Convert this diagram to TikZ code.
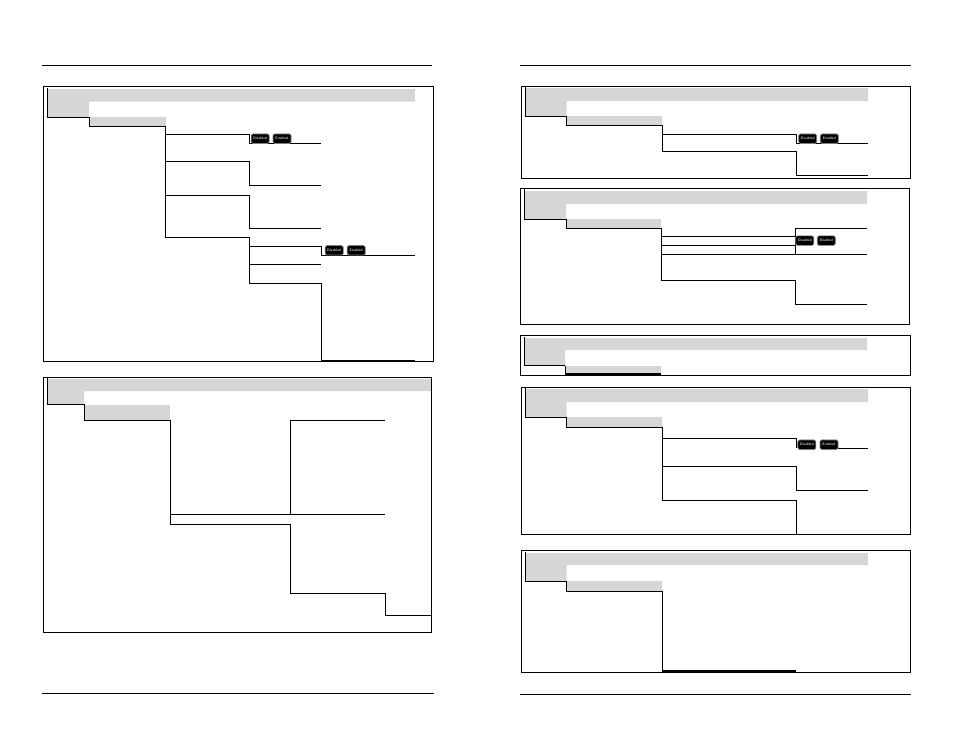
\documentclass[tikz,border=0pt]{standalone}
\usepackage{tikz}

\begin{document}
\begin{tikzpicture}[x=1pt, y=-1pt,
	frame/.style={draw, line width=1pt},
	band/.style={fill=black!16},
	wire/.style={draw, line width=1pt},
	heavy/.style={draw, line width=1.5pt},
	rule/.style={draw, line width=1pt},
	btn/.style={draw=black!50, line width=0.7pt, fill=black, text=black!20, rounded corners=1.5pt, inner sep=0pt, minimum width=18pt, minimum height=9.5pt, font=\sffamily\bfseries\fontsize{3.6}{4}\selectfont}]
	\useasboundingbox (0,0) rectangle (954,737);

	% page rules
	\coordinate (TL1) at (42,65.5);
	\coordinate (TL2) at (432,65.5);
	\coordinate (TR1) at (520,65.5);
	\coordinate (TR2) at (911,65.5);
	\coordinate (BL1) at (42,693.3);
	\coordinate (BL2) at (434,693.3);
	\coordinate (BR1) at (520,694);
	\coordinate (BR2) at (911,694);
	\draw[rule] (TL1) -- (TL2);
	\draw[rule] (TR1) -- (TR2);
	\draw[rule] (BL1) -- (BL2);
	\draw[rule] (BR1) -- (BR2);

	% first panel, top left
	\fill[band] (47.5,89) -| (415,101.7) -| (89,117) -| cycle;
	\fill[band] (89,117) rectangle (166,126.3);
	\draw[frame] (43.7,86.7) rectangle (433,361);
	\coordinate (a0) at (47.5,88);
	\coordinate (a1) at (89,117);
	\coordinate (a2) at (165.5,126.3);
	\coordinate (a3) at (249.7,134.3);
	\coordinate (a4) at (321,143.3);
	\coordinate (a5) at (249.7,161.3);
	\coordinate (a6) at (321,185.3);
	\coordinate (a7) at (249.7,195.3);
	\coordinate (a8) at (321,228.3);
	\coordinate (a9) at (249.7,237.3);
	\coordinate (a10) at (321,246.3);
	\coordinate (a11) at (415,255.3);
	\coordinate (a12) at (321,264.3);
	\coordinate (a13) at (321,283.3);
	\coordinate (a14) at (415,360.3);
	\draw[wire] (a0) |- (a1) |- (a2) |- (a9);
	\draw[wire] (a2 |- a3) -- (a3) |- (a4);
	\draw[wire] (a2 |- a5) -- (a5) |- (a6);
	\draw[wire] (a2 |- a7) -- (a7) |- (a8);
	\draw[wire] (a9) |- (a10) |- (a11);
	\draw[wire] (a9 |- a12) -- (a12);
	\draw[wire] (a9) |- (a13);
	\draw[wire] (a13) -- (a13 |- a14);
	\draw[heavy] (a13 |- a14) -- (a14);
	\node[btn] (a15) at (260.2,138.7) {Disabled};
	\node[btn] (a16) at (282,138.7) {Enabled};
	\node[btn] (a17) at (334.2,250.3) {Disabled};
	\node[btn] (a18) at (356.2,250.3) {Enabled};

	% second panel, bottom left
	\fill[band] (47.5,379) -| (431,391) -| (84,404.5) -| cycle;
	\fill[band] (84,404.5) rectangle (170,420.3);
	\draw[frame] (43.7,377.3) rectangle (431.5,632.3);
	\coordinate (b0) at (47.5,378);
	\coordinate (b1) at (84,404.5);
	\coordinate (b2) at (170.3,420.3);
	\coordinate (b3) at (290.3,514.3);
	\coordinate (b4) at (385,514.3);
	\coordinate (b5) at (385,420.3);
	\coordinate (b6) at (290.3,524.3);
	\coordinate (b7) at (385,593.3);
	\coordinate (b8) at (431,615.3);
	\draw[wire] (b0) |- (b1) |- (b2) |- (b6) |- (b7) |- (b8);
	\draw[wire] (b2 |- b4) -- (b4);
	\draw[wire] (b3) |- (b5);

	% third panel, top right
	\fill[band] (525.5,88) -| (868,101) -| (566.7,116) -| cycle;
	\fill[band] (566.7,116) rectangle (662,125);
	\draw[frame] (521.3,86.3) rectangle (910.3,178.3);
	\coordinate (c0) at (525.5,87);
	\coordinate (c1) at (566.7,116);
	\coordinate (c2) at (662.3,125);
	\coordinate (c3) at (796.7,134.3);
	\coordinate (c4) at (868,143);
	\coordinate (c5) at (796.7,151.3);
	\coordinate (c6) at (868,175.3);
	\draw[wire] (c0) |- (c1) |- (c2) |- (c5) |- (c6);
	\draw[wire] (c2 |- c3) -- (c3) |- (c4);
	\node[btn] (c7) at (807.7,138.7) {Disabled};
	\node[btn] (c8) at (829.3,138.7) {Enabled};

	% fourth panel
	\fill[band] (524.7,191) -| (867,204) -| (566,219) -| cycle;
	\fill[band] (566,219) rectangle (661,228);
	\draw[frame] (520.3,188.3) rectangle (909.3,324.3);
	\coordinate (d0) at (524.7,189);
	\coordinate (d1) at (566,219);
	\coordinate (d2) at (661.3,228);
	\coordinate (d3) at (795.3,236.3);
	\coordinate (d4) at (795.3,245.3);
	\coordinate (d5) at (867,254.3);
	\coordinate (d6) at (795.3,280.3);
	\coordinate (d7) at (867,304.3);
	\coordinate (d8) at (867,228.3);
	\draw[wire] (d0) |- (d1) |- (d2) |- (d6) |- (d7);
	\draw[wire] (d2 |- d3) -- (d3);
	\draw[wire] (d2 |- d4) -- (d4);
	\draw[wire] (d2 |- d5) -- (d5);
	\draw[wire] (d5 -| d3) |- (d8);
	\node[btn] (d9) at (804.8,240.6) {Disabled};
	\node[btn] (d10) at (826.3,240.6) {Enabled};

	% fifth panel
	\fill[band] (524.7,338) -| (867,350) -| (565,365.5) -| cycle;
	\fill[band] (565,365.5) rectangle (661,374.3);
	\draw[frame] (520.3,335.3) rectangle (910.7,375);
	\coordinate (e0) at (524.7,337);
	\coordinate (e1) at (565.3,365.5);
	\coordinate (e2) at (661,374.2);
	\draw[wire] (e0) |- (e1);
	\draw[wire] (e1) -- (e1 |- e2);
	\draw[heavy] (e1 |- e2) -- (e2);

	% sixth panel
	\fill[band] (525.5,389) -| (868,402) -| (566.7,417.3) -| cycle;
	\fill[band] (566.7,417.3) rectangle (662,427.3);
	\draw[frame] (521.3,387.3) rectangle (910.7,534.3);
	\coordinate (f0) at (525.5,388);
	\coordinate (f1) at (566.7,417.3);
	\coordinate (f2) at (662.3,427.3);
	\coordinate (f3) at (796.3,438.3);
	\coordinate (f4) at (868,448.3);
	\coordinate (f5) at (796.3,466.3);
	\coordinate (f6) at (868,490.3);
	\coordinate (f7) at (796.3,500.3);
	\coordinate (f8) at (796.3,534.3);
	\draw[wire] (f0) |- (f1) |- (f2) |- (f7) -- (f8);
	\draw[wire] (f2 |- f3) -- (f3) -- (f3 |- f4);
	\draw[wire] (838,448.3) -- (f4);
	\draw[wire] (f2 |- f5) -- (f5) |- (f6);
	\node[btn] (f9) at (806.8,444.7) {Disabled};
	\node[btn] (f10) at (829,444.7) {Enabled};

	% seventh panel
	\fill[band] (525.5,553) -| (868,565) -| (566.7,581) -| cycle;
	\fill[band] (566.7,581) rectangle (662,591.3);
	\draw[frame] (521.3,550.3) rectangle (910.7,672);
	\coordinate (g0) at (525.5,552);
	\coordinate (g1) at (566.7,581);
	\coordinate (g2) at (662.3,591.3);
	\coordinate (g3) at (796,671.2);
	\draw[wire] (g0) |- (g1) |- (g2) -- (g2 |- g3);
	\draw[heavy] (g2 |- g3) -- (g3);
\end{tikzpicture}
\end{document}
